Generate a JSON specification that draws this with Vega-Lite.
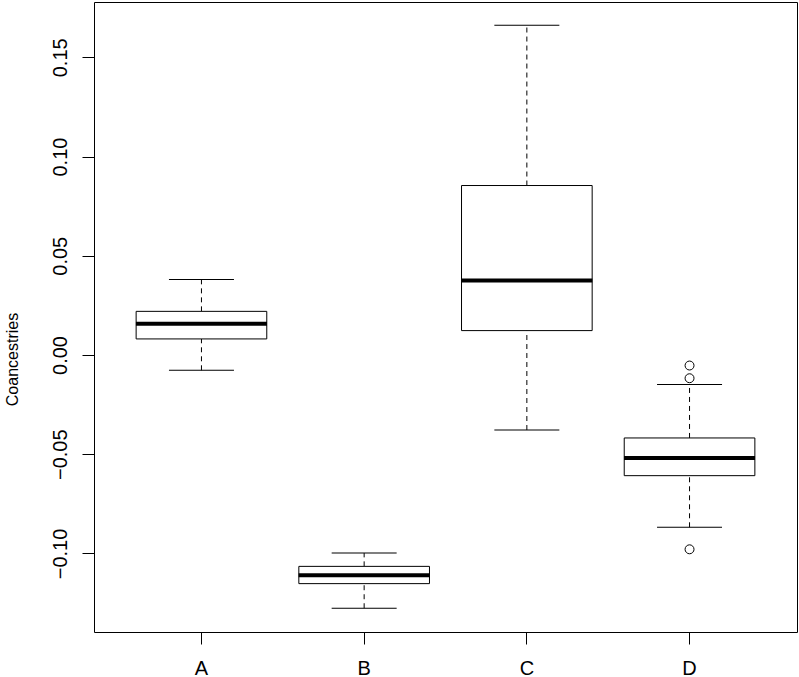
{
  "$schema": "https://vega.github.io/schema/vega-lite/v6.json",
  "width": 703,
  "height": 630,
  "autosize": {"type": "none"},
  "padding": {"left": 94, "top": 2, "right": 2, "bottom": 45},
  "background": "white",
  "config": {
    "view": {"stroke": "black", "strokeWidth": 1},
    "axis": {
      "grid": false,
      "labelFont": "Liberation Sans",
      "titleFont": "Liberation Sans",
      "labelColor": "black",
      "titleColor": "black",
      "tickColor": "black",
      "labelFontSize": 20,
      "titleFontSize": 16,
      "titleFontWeight": "normal",
      "domain": false,
      "tickSize": 12
    }
  },
  "datasets": {
    "stats": [
      {"group": "A", "lower": -0.0077, "q1": 0.0081, "median": 0.0158, "q3": 0.0220, "upper": 0.0381},
      {"group": "B", "lower": -0.1276, "q1": -0.1152, "median": -0.1110, "q3": -0.1065, "upper": -0.0998},
      {"group": "C", "lower": -0.0378, "q1": 0.0123, "median": 0.0376, "q3": 0.0854, "upper": 0.1661},
      {"group": "D", "lower": -0.0868, "q1": -0.0608, "median": -0.0519, "q3": -0.0418, "upper": -0.0148}
    ],
    "outliers": [
      {"group": "D", "value": -0.0053},
      {"group": "D", "value": -0.0117},
      {"group": "D", "value": -0.0979}
    ]
  },
  "encoding": {
    "x": {
      "field": "group",
      "type": "nominal",
      "scale": {"type": "band", "domain": ["A", "B", "C", "D"], "paddingInner": 0.197, "paddingOuter": 0.259},
      "axis": {"title": null, "labelAngle": 0, "labelPadding": 14, "labelBaseline": "top"}
    }
  },
  "layer": [
    {
      "data": {"name": "stats"},
      "mark": {"type": "rule", "color": "black", "strokeWidth": 1, "strokeDash": [5, 4]},
      "encoding": {
        "y": {
          "field": "q3", "type": "quantitative",
          "scale": {"domain": [-0.13957, 0.17787], "nice": false, "zero": false},
          "axis": {
            "title": "Coancestries",
            "values": [-0.1, -0.05, 0, 0.05, 0.1, 0.15],
            "format": ".2f",
            "labelAngle": -90,
            "labelAlign": "center",
            "labelBaseline": "bottom",
            "labelPadding": 12,
            "titleAngle": -90,
            "titleAlign": "center",
            "titleBaseline": "middle",
            "titleX": -82,
            "titleY": 357
          }
        },
        "y2": {"field": "upper"}
      }
    },
    {
      "data": {"name": "stats"},
      "mark": {"type": "rule", "color": "black", "strokeWidth": 1, "strokeDash": [5, 4]},
      "encoding": {
        "y": {"field": "lower", "type": "quantitative"},
        "y2": {"field": "q1"}
      }
    },
    {
      "data": {"name": "stats"},
      "mark": {"type": "tick", "color": "black", "size": 65, "thickness": 1, "opacity": 1},
      "encoding": {"y": {"field": "upper", "type": "quantitative"}}
    },
    {
      "data": {"name": "stats"},
      "mark": {"type": "tick", "color": "black", "size": 65, "thickness": 1, "opacity": 1},
      "encoding": {"y": {"field": "lower", "type": "quantitative"}}
    },
    {
      "data": {"name": "stats"},
      "mark": {"type": "bar", "fill": "white", "stroke": "black", "strokeWidth": 1},
      "encoding": {
        "y": {"field": "q1", "type": "quantitative"},
        "y2": {"field": "q3"}
      }
    },
    {
      "data": {"name": "stats"},
      "mark": {"type": "tick", "color": "black", "size": 131, "thickness": 4, "opacity": 1},
      "encoding": {"y": {"field": "median", "type": "quantitative"}}
    },
    {
      "data": {"name": "outliers"},
      "mark": {"type": "point", "shape": "circle", "filled": false, "color": "black", "size": 80, "strokeWidth": 1, "opacity": 1},
      "encoding": {"y": {"field": "value", "type": "quantitative"}}
    }
  ]
}
